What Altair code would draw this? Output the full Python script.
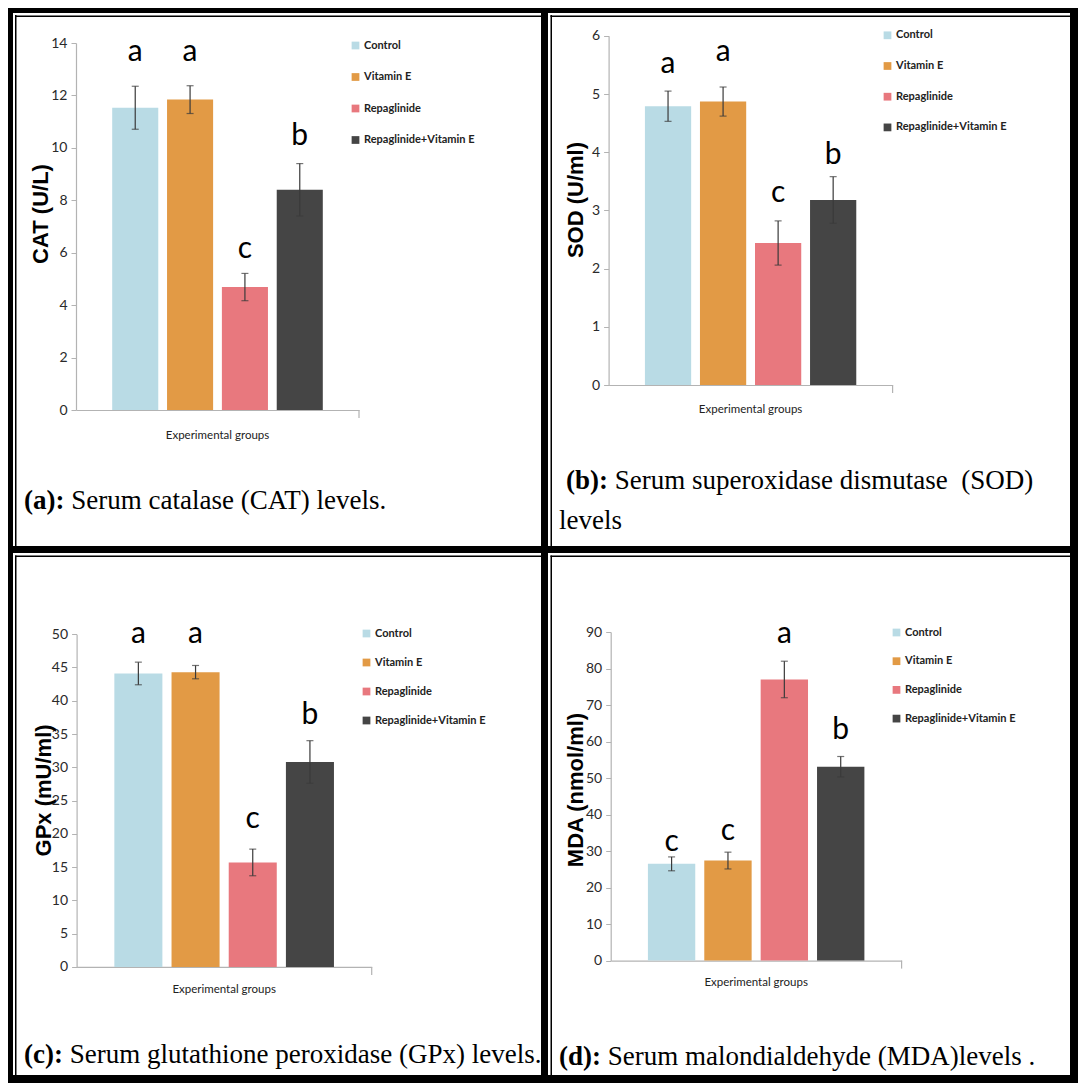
import altair as alt
import pandas as pd

# ---------------- data ----------------
groups = ["Control", "Vitamin E", "Repaglinide", "Repaglinide+Vitamin E"]
colors = ["#b9dbe5", "#e29a45", "#e8787e", "#454545"]

cat_mean = [11.53, 11.84, 4.69, 8.40]
cat_err = [0.82, 0.53, 0.52, 1.00]
cat_letter = ["a", "a", "c", "b"]
cat_letter_y = [13.67, 13.67, 6.16, 10.47]
cat_ticks = [0, 2, 4, 6, 8, 10, 12, 14]

sod_mean = [4.79, 4.87, 2.44, 3.18]
sod_err = [0.26, 0.25, 0.38, 0.40]
sod_letter = ["a", "a", "c", "b"]
sod_letter_y = [5.51, 5.72, 3.30, 3.96]
sod_ticks = [0, 1, 2, 3, 4, 5, 6]

gpx_mean = [44.1, 44.3, 15.7, 30.8]
gpx_err = [1.7, 1.0, 2.0, 3.2]
gpx_letter = ["a", "a", "c", "b"]
gpx_letter_y = [50.0, 50.0, 22.2, 37.9]
gpx_ticks = [0, 5, 10, 15, 20, 25, 30, 35, 40, 45, 50]

mda_mean = [26.5, 27.4, 77.0, 53.1]
mda_err = [1.9, 2.3, 5.0, 2.8]
mda_letter = ["c", "c", "a", "b"]
mda_letter_y = [32.4, 35.5, 89.4, 63.2]
mda_ticks = [0, 10, 20, 30, 40, 50, 60, 70, 80, 90]

# ---------------- style ----------------
NARROW = "Lato, Liberation Sans Narrow, sans-serif"
SANS = "Liberation Sans, Arial, sans-serif"
SERIF = "Liberation Serif, Times New Roman, serif"
AXIS_GRAY = "#b3b3b3"
CAP_SIZE = 27


def one():
    return alt.Chart(alt.Data(values=[{}]))


def band(x, x2, y, y2):
    return one().mark_rect(color="black").encode(
        x=alt.value(x), x2=alt.value(x2), y=alt.value(y), y2=alt.value(y2)
    )


def label(text, x, y, **kw):
    return one().mark_text(text=text, **kw).encode(x=alt.value(x), y=alt.value(y))


def panel(mean, err, letters, letter_y, ticks, ytitle, cap_bold, cap_rest, L):
    df = pd.DataFrame({
        "group": groups,
        "mean": mean,
        "lo": [m - e for m, e in zip(mean, err)],
        "hi": [m + e for m, e in zip(mean, err)],
        "letter": letters,
        "ly": letter_y,
    })
    W, H = L["W"], L["H"]
    xs = alt.Scale(domain=groups, range=[L["x0"], L["x1"]], paddingInner=0.16, paddingOuter=0.66)
    ys = alt.Scale(domain=[0, ticks[-1]], range=[L["y0"], L["y1"]], nice=False, zero=True)
    xaxis = alt.Axis(orient="bottom", offset=-(H - L["y0"]), labels=False, ticks=False,
                     title=None, domainColor=AXIS_GRAY, domainWidth=1.2, grid=False)
    yaxis = alt.Axis(orient="left", offset=-L["x0"], values=ticks, title=None, grid=False,
                     domainColor=AXIS_GRAY, domainWidth=1.2, tickColor=AXIS_GRAY, tickSize=5,
                     labelFont=NARROW, labelFontSize=14, labelColor="#2a2a2a", labelPadding=4,
                     format="d")
    X = alt.X("group:N", sort=groups, scale=xs, axis=xaxis)
    base = alt.Chart(df)
    bars = base.mark_bar().encode(
        x=X,
        y=alt.Y("mean:Q", scale=ys, axis=yaxis),
        color=alt.Color("group:N", scale=alt.Scale(domain=groups, range=colors),
                        legend=alt.Legend(orient="none", legendX=L["lx"], legendY=L["ly"],
                                          title=None, symbolType="square", symbolSize=60,
                                          symbolStrokeWidth=0, labelFont=NARROW,
                                          labelFontSize=11, labelFontWeight="bold",
                                          labelColor="#222222", rowPadding=L["rp"],
                                          labelOffset=3, padding=0)),
    )
    rule = base.mark_rule(color="#3a3a3a", strokeWidth=1.2).encode(
        x=X, y=alt.Y("lo:Q", scale=ys, axis=yaxis), y2="hi:Q")
    cap_lo = base.mark_tick(color="#3a3a3a", size=7, thickness=1.2).encode(
        x=X, y=alt.Y("lo:Q", scale=ys, axis=yaxis))
    cap_hi = base.mark_tick(color="#3a3a3a", size=7, thickness=1.2).encode(
        x=X, y=alt.Y("hi:Q", scale=ys, axis=yaxis))
    lets = base.mark_text(font=NARROW, fontSize=30, baseline="middle", color="black").encode(
        x=X, y=alt.Y("ly:Q", scale=ys, axis=yaxis), text="letter:N")

    end_tick = one().mark_rule(color=AXIS_GRAY, strokeWidth=1.2).encode(
        x=alt.value(L["x1"]), y=alt.value(L["y0"]), y2=alt.value(L["y0"] + 8))

    ytl = label(ytitle, L["ytx"], L["yty"], angle=270, font=SANS, fontWeight="bold",
                fontSize=22, align="center", baseline="middle", color="black")
    xtl = label("Experimental groups", (L["x0"] + L["x1"]) / 2, L["xty"], font=NARROW,
                fontSize=11.5, align="center", baseline="middle", color="#222222")

    caps = [label(cap_bold, L["capx"], L["capy"], font=SERIF, fontWeight="bold",
                  fontSize=CAP_SIZE, align="left", baseline="middle", color="black"),
            label(cap_rest, L["capx"] + L["bw"] + 6.75, L["capy"], font=SERIF,
                  fontSize=CAP_SIZE, align="left", baseline="middle", color="black")]
    if "cap2" in L:
        caps.append(label(L["cap2"], L["cap2x"], L["cap2y"], font=SERIF, fontSize=CAP_SIZE,
                          align="left", baseline="middle", color="black"))

    borders = [band(*b) for b in L["thick"]] + [band(*b) for b in L["thin"]]

    return alt.layer(bars, rule, cap_lo, cap_hi, lets, end_tick, ytl, xtl, *caps,
                     *borders).properties(width=W, height=H)


LA = dict(W=537, H=542, x0=68, x1=351, y0=402, y1=35, lx=342, ly=32, rp=19.5,
          ytx=33, yty=206, xty=428, capx=16, capy=493, bw=40.5,
          thick=[(0, 5, 0, 542), (0, 537, 0, 5), (533, 537, 0, 542), (0, 537, 538, 542)],
          thin=[(7, 8.5, 7, 538), (7, 533, 7.5, 9)])
LB = dict(W=533, H=542, x0=63.6, x1=347.6, y0=377, y1=27.8, lx=337, ly=21.8, rp=18.7,
          ytx=30.6, yty=192, xty=402, capx=21, capy=473, bw=42,
          cap2="levels", cap2x=14, cap2y=513,
          thick=[(0, 3, 0, 542), (0, 533, 0, 5), (525, 533, 0, 542), (0, 533, 538, 542)],
          thin=[(5.5, 7, 7, 538), (5.5, 525, 7.5, 9)])
LC = dict(W=537, H=533, x0=68.6, x1=363.7, y0=416.9, y1=84.2, lx=353, ly=78, rp=17,
          ytx=35.9, yty=240.4, xty=439.8, capx=16, capy=504.7, bw=39,
          thick=[(0, 5, 0, 533), (0, 537, 0, 3), (533, 537, 0, 533), (0, 537, 525, 533)],
          thin=[(7, 8.5, 5.5, 525), (7, 533, 5.5, 7)])
LD = dict(W=533, H=533, x0=65.7, x1=356.6, y0=410.6, y1=82, lx=346, ly=77, rp=16.7,
          ytx=30.9, yty=240, xty=433.4, capx=14, capy=506.5, bw=42,
          thick=[(0, 3, 0, 533), (0, 533, 0, 3), (525, 533, 0, 533), (0, 533, 525, 533)],
          thin=[(5.5, 7, 5.5, 525), (5.5, 525, 5.5, 7)])

pa = panel(cat_mean, cat_err, cat_letter, cat_letter_y, cat_ticks, "CAT (U/L)",
           "(a):", "Serum catalase (CAT) levels.", LA)
pb = panel(sod_mean, sod_err, sod_letter, sod_letter_y, sod_ticks, "SOD (U/ml)",
           "(b):", "Serum superoxidase dismutase \u00a0(SOD)", LB)
pc = panel(gpx_mean, gpx_err, gpx_letter, gpx_letter_y, gpx_ticks, "GPx (mU/ml)",
           "(c):", "Serum glutathione peroxidase (GPx) levels.", LC)
pd_ = panel(mda_mean, mda_err, mda_letter, mda_letter_y, mda_ticks, "MDA (nmol/ml)",
            "(d):", "Serum malondialdehyde (MDA)levels .", LD)

chart = alt.concat(pa, pb, pc, pd_, columns=2, spacing=0, bounds="flush", align="each").resolve_scale(
    color="independent", x="independent", y="independent"
).resolve_legend(color="independent").properties(
    padding=0, background="white"
).configure_view(stroke=None)

chart.save("out.html", embed_options={"renderer": "svg", "actions": False})
